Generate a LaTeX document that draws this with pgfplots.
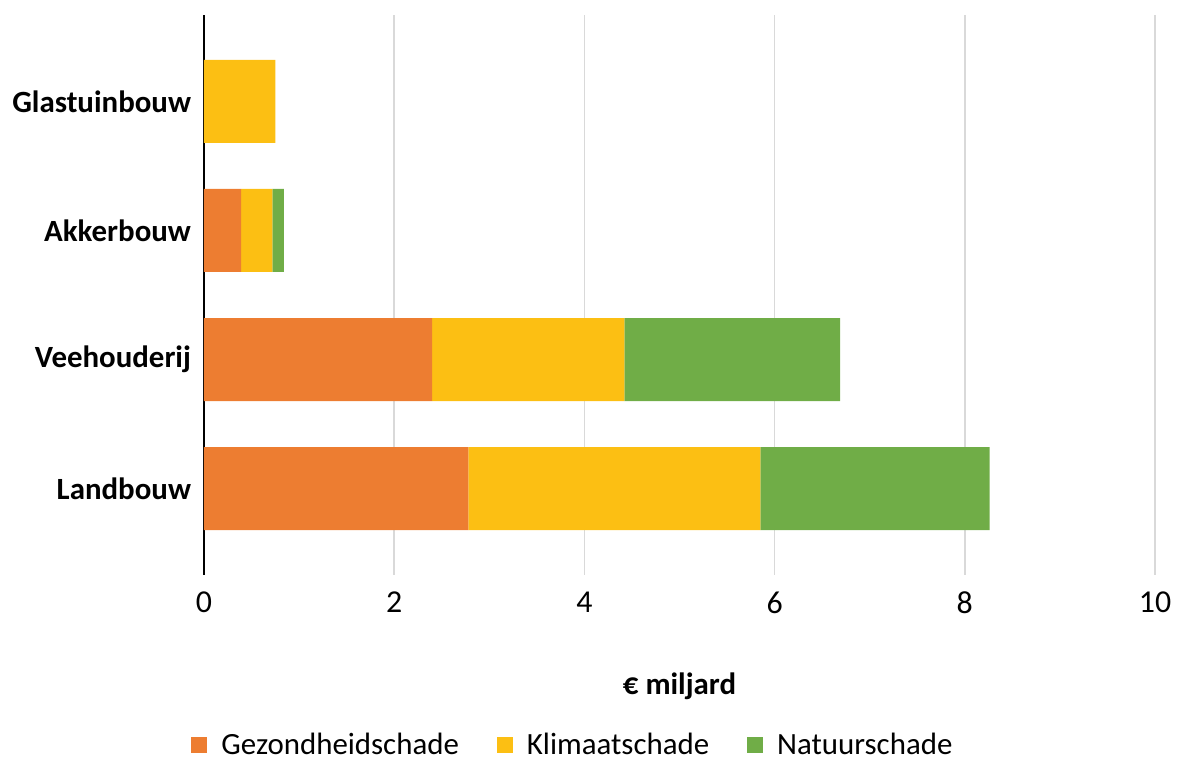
\documentclass[border=0pt]{standalone}
\usepackage{pgfplots}
\pgfplotsset{compat=1.18}
\usepackage{fontspec}
\setmainfont{Carlito}
\definecolor{gezond}{HTML}{ED7D31}
\definecolor{klimaat}{HTML}{FCBF13}
\definecolor{natuur}{HTML}{70AD47}
\definecolor{gridc}{HTML}{D9D9D9}
\begin{document}
\begin{tikzpicture}
\begin{axis}[
 scale only axis,
 width=475.5bp, height=280bp,
 xbar stacked, bar width=41.5bp,
 xmin=0, xmax=10, xtick={0,2,...,10},
 ymin=-0.67, ymax=3.67,
 ytick={0,1,2,3},
 yticklabels={Landbouw,Veehouderij,Akkerbouw,Glastuinbouw},
 yticklabel style={font=\fontsize{15.5}{18}\selectfont\bfseries, xshift=-3bp},
 xticklabel style={font=\fontsize{16}{19}\selectfont, yshift=-5bp},
 /pgf/number format/assume math mode=true,
 major tick length=0pt,
 axis x line*=bottom, x axis line style={draw=none},
 axis y line*=left, y axis line style={black, line width=0.8pt, -},
 xmajorgrids, grid style={gridc, line width=0.8pt},
 xlabel={€ miljard},
 xlabel style={font=\fontsize{15.5}{18}\selectfont\bfseries, at={(rel axis cs:0.5,0)}, anchor=center, yshift=-55.5bp},
 legend columns=3,
 legend style={draw=none, at={(0.389,-0.304)}, anchor=center,
   font=\fontsize{15.5}{18}\selectfont,
   /tikz/every odd column/.append style={column sep=5bp},
   /tikz/every even column/.append style={column sep=17bp}},
 legend image code/.code={\path[#1,draw=none] (0bp,-4bp) rectangle (8bp,4bp);},
]
\addplot[fill=gezond, draw=none] coordinates {(2.78,0) (2.40,1) (0.39,2) (0,3)};
\addplot[fill=klimaat, draw=none] coordinates {(3.07,0) (2.02,1) (0.33,2) (0.75,3)};
\addplot[fill=natuur, draw=none] coordinates {(2.41,0) (2.27,1) (0.12,2) (0,3)};
\legend{Gezondheidschade,Klimaatschade,Natuurschade}
\end{axis}
\path[use as bounding box] (-102bp,-92.5bp) rectangle (487.5bp,287.5bp);
\end{tikzpicture}
\end{document}
